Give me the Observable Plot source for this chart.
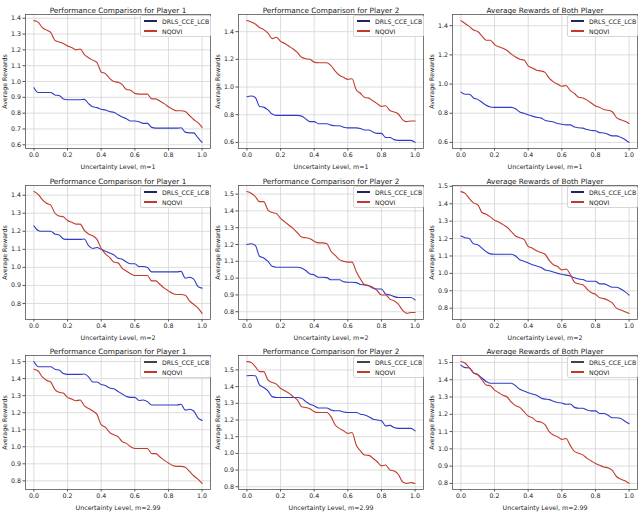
<!DOCTYPE html>
<html>
<head>
<meta charset="utf-8">
<script src="https://cdn.jsdelivr.net/npm/d3@7"></script>
<script src="https://cdn.jsdelivr.net/npm/@observablehq/plot@0.6"></script>
<style>
  html, body { margin: 0; padding: 0; background: #fff; }
  #wrap { position: relative; width: 640px; height: 512px; overflow: hidden; font-family: "DejaVu Sans", sans-serif; }
  .cell { position: absolute; width: 213px; height: 171px; }
  .legend { position: absolute; left: 140px; top: 15px; width: 69px; height: 20px; background: rgba(255,255,255,0.85);
            border: 0.8px solid #d6d6d6; border-radius: 2px; font-size: 6.2px; color: #222; }
  .legend .row { position: absolute; left: 0; height: 8px; display: flex; align-items: center; }
  .legend .sw { width: 13px; height: 1.3px; margin-left: 3px; margin-right: 5px; }
</style>
</head>
<body>
<div id="wrap"></div>
<script>
// shared x grid (uncertainty level)
const xs = [0, 0.025, 0.05, 0.075, 0.1, 0.125, 0.15, 0.175, 0.2, 0.225, 0.25, 0.275, 0.3, 0.325, 0.35, 0.375, 0.4, 0.425, 0.45, 0.475, 0.5,
            0.525, 0.55, 0.575, 0.6, 0.625, 0.65, 0.675, 0.7, 0.725, 0.75, 0.775, 0.8, 0.825, 0.85, 0.875, 0.9, 0.925, 0.95, 0.975, 1.0];
const xTicks = [0, 0.2, 0.4, 0.6, 0.8, 1.0];
const seriesNames = ["DRLS_CCE_LCB", "NQOVI"];
const titles = ["Performance Comparison for Player 1", "Performance Comparison for Player 2", "Average Rewards of Both Player"];
const xLabels = ["Uncertainty Level, m=1", "Uncertainty Level, m=2", "Uncertainty Level, m=2.99"];

// m = 1
const drls_m1_p1 = [0.96,0.93,0.93,0.93,0.93,0.915,0.912,0.89,0.885,0.885,0.885,0.885,0.887,0.86,0.84,0.835,0.825,0.82,0.81,0.805,0.79,
  0.775,0.765,0.75,0.75,0.745,0.735,0.735,0.71,0.705,0.705,0.705,0.705,0.705,0.705,0.708,0.68,0.675,0.675,0.645,0.615];
const nqovi_m1_p1 = [1.385,1.375,1.34,1.325,1.31,1.26,1.25,1.24,1.225,1.215,1.2,1.205,1.17,1.15,1.135,1.12,1.06,1.05,1.02,1.0,0.995,
  0.98,0.95,0.945,0.925,0.92,0.92,0.92,0.89,0.89,0.875,0.86,0.84,0.825,0.815,0.815,0.81,0.785,0.76,0.74,0.71];
const drls_m1_p2 = [0.93,0.935,0.925,0.86,0.855,0.835,0.805,0.795,0.795,0.795,0.795,0.795,0.795,0.79,0.77,0.75,0.75,0.735,0.735,0.735,0.725,
  0.72,0.72,0.71,0.705,0.705,0.705,0.7,0.69,0.69,0.675,0.665,0.665,0.635,0.635,0.62,0.615,0.615,0.615,0.615,0.6];
const nqovi_m1_p2 = [1.48,1.47,1.455,1.43,1.415,1.39,1.35,1.36,1.33,1.315,1.295,1.275,1.25,1.215,1.205,1.2,1.18,1.175,1.175,1.175,1.155,
  1.115,1.085,1.07,1.055,1.06,0.98,0.955,0.925,0.92,0.9,0.88,0.86,0.865,0.83,0.82,0.805,0.765,0.75,0.755,0.755];
const drls_m1_both = [0.945,0.93,0.93,0.905,0.895,0.875,0.855,0.843,0.84,0.84,0.84,0.84,0.84,0.83,0.808,0.8,0.79,0.78,0.772,0.768,0.752,
  0.745,0.74,0.73,0.725,0.72,0.72,0.705,0.7,0.698,0.688,0.682,0.68,0.667,0.665,0.655,0.645,0.645,0.635,0.62,0.6];
const nqovi_m1_both = [1.435,1.415,1.395,1.37,1.36,1.33,1.3,1.3,1.27,1.255,1.245,1.23,1.205,1.185,1.17,1.165,1.125,1.11,1.095,1.09,1.08,
  1.04,1.015,1.0,0.985,0.99,0.955,0.935,0.91,0.905,0.89,0.87,0.85,0.84,0.825,0.82,0.81,0.77,0.755,0.745,0.73];

// m = 2
const drls_m2_p1 = [1.23,1.205,1.2,1.2,1.2,1.185,1.18,1.158,1.155,1.155,1.155,1.155,1.157,1.12,1.105,1.11,1.1,1.09,1.08,1.07,1.05,
  1.045,1.03,1.02,1.02,1.005,1.005,1.0,0.975,0.975,0.975,0.975,0.975,0.975,0.975,0.978,0.94,0.945,0.935,0.895,0.885];
const nqovi_m2_p1 = [1.42,1.405,1.375,1.355,1.345,1.3,1.285,1.28,1.26,1.25,1.24,1.24,1.205,1.185,1.175,1.155,1.105,1.075,1.055,1.03,1.025,
  0.995,0.98,0.965,0.955,0.955,0.955,0.955,0.925,0.925,0.905,0.885,0.87,0.855,0.85,0.85,0.845,0.815,0.795,0.775,0.745];
const drls_m2_p2 = [1.2,1.205,1.195,1.13,1.12,1.1,1.07,1.065,1.065,1.065,1.065,1.065,1.065,1.06,1.045,1.025,1.02,1.005,1.005,1.003,0.99,
  0.99,0.99,0.978,0.975,0.975,0.973,0.962,0.96,0.955,0.94,0.935,0.935,0.905,0.9,0.89,0.885,0.885,0.885,0.885,0.87];
const nqovi_m2_p2 = [1.515,1.505,1.485,1.455,1.455,1.405,1.39,1.385,1.355,1.335,1.315,1.295,1.27,1.245,1.24,1.235,1.22,1.21,1.21,1.205,1.16,
  1.135,1.11,1.1,1.095,1.095,1.04,0.995,0.96,0.955,0.945,0.925,0.9,0.9,0.875,0.865,0.845,0.81,0.79,0.795,0.795];
const drls_m2_both = [1.215,1.205,1.2,1.17,1.165,1.145,1.125,1.112,1.11,1.11,1.11,1.11,1.11,1.1,1.078,1.07,1.06,1.05,1.042,1.035,1.02,
  1.015,1.008,1.0,0.995,0.99,0.985,0.975,0.968,0.965,0.955,0.955,0.955,0.94,0.94,0.93,0.92,0.92,0.91,0.895,0.875];
const nqovi_m2_both = [1.47,1.46,1.43,1.405,1.395,1.35,1.34,1.325,1.305,1.295,1.28,1.265,1.24,1.215,1.205,1.195,1.155,1.145,1.13,1.12,1.11,
  1.075,1.05,1.04,1.02,1.025,0.995,0.95,0.94,0.935,0.91,0.89,0.88,0.86,0.855,0.845,0.83,0.8,0.79,0.78,0.77];

// m = 2.99
const drls_m3_p1 = [1.5,1.47,1.47,1.47,1.47,1.455,1.45,1.43,1.425,1.425,1.425,1.425,1.427,1.41,1.38,1.38,1.365,1.36,1.345,1.34,1.325,
  1.31,1.295,1.29,1.29,1.272,1.275,1.265,1.245,1.245,1.245,1.245,1.245,1.245,1.245,1.25,1.215,1.22,1.21,1.17,1.155];
const nqovi_m3_p1 = [1.455,1.445,1.41,1.39,1.38,1.335,1.32,1.315,1.29,1.28,1.27,1.275,1.24,1.225,1.21,1.19,1.13,1.115,1.085,1.07,1.06,
  1.03,1.02,1.0,0.99,0.99,0.99,0.99,0.96,0.96,0.94,0.92,0.905,0.89,0.885,0.885,0.88,0.855,0.83,0.81,0.785];
const drls_m3_p2 = [1.465,1.467,1.465,1.41,1.395,1.375,1.34,1.335,1.335,1.335,1.335,1.335,1.335,1.33,1.31,1.295,1.285,1.272,1.272,1.272,1.26,
  1.255,1.255,1.248,1.245,1.245,1.245,1.235,1.23,1.22,1.205,1.2,1.195,1.165,1.168,1.155,1.15,1.15,1.15,1.15,1.135];
const nqovi_m3_p2 = [1.55,1.545,1.52,1.49,1.49,1.44,1.425,1.415,1.39,1.375,1.36,1.34,1.32,1.28,1.275,1.268,1.25,1.245,1.245,1.245,1.22,
  1.17,1.15,1.135,1.12,1.125,1.05,1.015,0.99,0.988,0.97,0.95,0.925,0.93,0.9,0.895,0.875,0.83,0.82,0.825,0.82];
const drls_m3_both = [1.485,1.47,1.468,1.44,1.43,1.41,1.39,1.38,1.38,1.38,1.38,1.38,1.38,1.365,1.345,1.335,1.325,1.318,1.31,1.295,1.288,
  1.285,1.275,1.268,1.265,1.258,1.26,1.24,1.235,1.235,1.225,1.22,1.22,1.205,1.205,1.195,1.18,1.18,1.175,1.16,1.145];
const nqovi_m3_both = [1.505,1.495,1.47,1.44,1.428,1.4,1.37,1.365,1.34,1.325,1.31,1.3,1.27,1.25,1.24,1.215,1.19,1.18,1.16,1.155,1.14,
  1.1,1.08,1.07,1.055,1.06,1.02,0.985,0.975,0.965,0.945,0.93,0.915,0.905,0.895,0.89,0.875,0.84,0.825,0.815,0.8];

// y tick labels per panel
const yTicks01 = [0.6, 0.7, 0.8, 0.9, 1.0, 1.1, 1.2, 1.3, 1.4];
const yTicks02 = [0.6, 0.8, 1.0, 1.2, 1.4];
const yTicks2a = [0.8, 0.9, 1.0, 1.1, 1.2, 1.3, 1.4];
const yTicks15 = [0.8, 0.9, 1.0, 1.1, 1.2, 1.3, 1.4, 1.5];

const panels = [
  {row:0, col:0, drls:drls_m1_p1, nqovi:nqovi_m1_p1, yt:yTicks01},
  {row:0, col:1, drls:drls_m1_p2, nqovi:nqovi_m1_p2, yt:yTicks02},
  {row:0, col:2, drls:drls_m1_both, nqovi:nqovi_m1_both, yt:yTicks02},
  {row:1, col:0, drls:drls_m2_p1, nqovi:nqovi_m2_p1, yt:yTicks2a},
  {row:1, col:1, drls:drls_m2_p2, nqovi:nqovi_m2_p2, yt:yTicks15},
  {row:1, col:2, drls:drls_m2_both, nqovi:nqovi_m2_both, yt:yTicks15},
  {row:2, col:0, drls:drls_m3_p1, nqovi:nqovi_m3_p1, yt:yTicks15},
  {row:2, col:1, drls:drls_m3_p2, nqovi:nqovi_m3_p2, yt:yTicks15},
  {row:2, col:2, drls:drls_m3_both, nqovi:nqovi_m3_both, yt:yTicks15}
];

const BLUE = "#2f3cc4", RED = "#c23a2c";
const colX = [0, 213, 427];
const rowY = [0, 171, 341];
const rowH = [170, 170, 171];
const wrap = document.getElementById("wrap");

for (const p of panels) {
  const rows = xs.map((x, i) => ({x, y: p.drls[i], s: seriesNames[0]}))
    .concat(xs.map((x, i) => ({x, y: p.nqovi[i], s: seriesNames[1]})));
  const all = p.drls.concat(p.nqovi);
  const lo = d3.min(all), hi = d3.max(all), pad = (hi - lo) * 0.05;
  const H = rowH[p.row];
  const chart = Plot.plot({
    width: 213, height: H,
    marginLeft: 25, marginRight: 3, marginTop: 14, marginBottom: H - 148,
    style: {fontFamily: "DejaVu Sans, sans-serif", fontSize: "6.3px", color: "#222", background: "transparent", overflow: "visible"},
    x: {domain: [-0.05, 1.05]},
    y: {domain: [lo - pad, hi + pad]},
    color: {domain: seriesNames, range: [BLUE, RED]},
    marks: [
      Plot.gridX(xTicks, {stroke: "#d4d4d4", strokeOpacity: 1, strokeWidth: 0.8}),
      Plot.gridY(p.yt, {stroke: "#d4d4d4", strokeOpacity: 1, strokeWidth: 0.8}),
      Plot.frame({stroke: "#555", strokeWidth: 0.8}),
      Plot.axisX(xTicks, {tickFormat: d3.format(".1f"), tickSize: 2.5, tickPadding: 2, stroke: "#555",
        label: xLabels[p.row], labelAnchor: "center", labelArrow: "none", labelOffset: 20, fontSize: 6.3}),
      Plot.axisY(p.yt, {tickFormat: d3.format(".1f"), tickSize: 2.5, tickPadding: 2, stroke: "#555",
        label: "Average Rewards", labelAnchor: "center", labelArrow: "none", labelOffset: 23, fontSize: 6.3}),
      Plot.line(rows, {x: "x", y: "y", z: "s", stroke: "s", strokeWidth: 1.1, curve: "monotone-x"}),
      Plot.text([titles[p.col]], {frameAnchor: "top", dy: -7, fontSize: 7.3, fill: "#222"})
    ]
  });
  const cell = document.createElement("div");
  cell.className = "cell";
  cell.style.left = colX[p.col] + "px";
  cell.style.top = rowY[p.row] + "px";
  cell.appendChild(chart);
  const leg = document.createElement("div");
  leg.className = "legend";
  const dark = p.row === 2 ? "#444" : "#1e2466";
  leg.innerHTML =
    `<div class="row" style="top:1px"><div class="sw" style="background:${dark}"></div>${seriesNames[0]}</div>` +
    `<div class="row" style="top:11px"><div class="sw" style="background:${RED}"></div>${seriesNames[1]}</div>`;
  cell.appendChild(leg);
  wrap.appendChild(cell);
}
</script>
</body>
</html>
